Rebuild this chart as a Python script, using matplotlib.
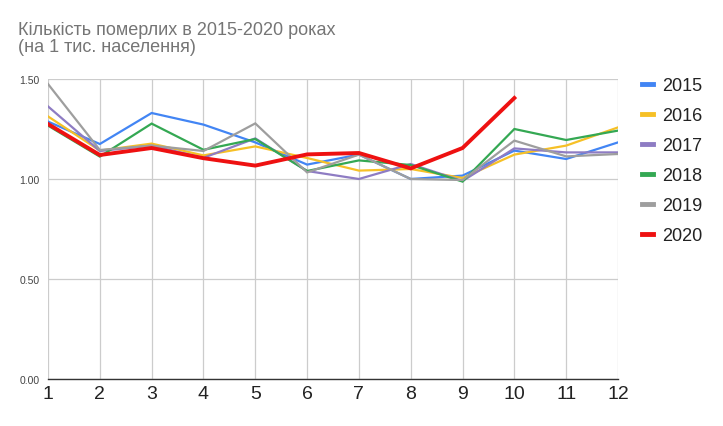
import matplotlib
matplotlib.use("Agg")
from matplotlib import pyplot as plt

plt.rcParams['font.family'] = ['Liberation Sans', 'DejaVu Sans']

months = [1, 2, 3, 4, 5, 6, 7, 8, 9, 10, 11, 12]
y2015 = [1.287, 1.175, 1.330, 1.272, 1.183, 1.072, 1.122, 1.000, 1.017, 1.142, 1.100, 1.183]
y2016 = [1.313, 1.142, 1.177, 1.118, 1.163, 1.105, 1.042, 1.050, 1.005, 1.122, 1.167, 1.258]
y2017 = [1.363, 1.140, 1.167, 1.106, 1.203, 1.040, 1.000, 1.075, 0.990, 1.153, 1.133, 1.133]
y2018 = [1.267, 1.112, 1.277, 1.146, 1.200, 1.040, 1.093, 1.070, 0.987, 1.250, 1.195, 1.242]
y2019 = [1.475, 1.145, 1.167, 1.140, 1.278, 1.033, 1.122, 1.000, 0.995, 1.192, 1.113, 1.125]
y2020 = [1.275, 1.120, 1.155, 1.104, 1.067, 1.123, 1.130, 1.053, 1.155, 1.405]

series = [
    ('2015', y2015, '#4285F4', 1.6),
    ('2016', y2016, '#F6C026', 1.6),
    ('2017', y2017, '#8E7CC3', 1.6),
    ('2018', y2018, '#34A853', 1.6),
    ('2019', y2019, '#9E9E9E', 1.6),
    ('2020', y2020, '#EE1111', 2.8),
]
yticks = [0.0, 0.5, 1.0, 1.5]
ytick_labels = ['0.00', '0.50', '1.00', '1.50']

fig = plt.figure(figsize=(7.23, 4.27), dpi=100)
ax = fig.add_axes([48/723, 1-380/427, (618-48)/723, 300/427])

for name, vals, col, lw in series:
    ax.plot(months[:len(vals)], vals, color=col, lw=lw, label=name,
            solid_joinstyle='miter', zorder=3)

ax.set_xlim(1, 12)
ax.set_ylim(0, 1.5)
ax.set_xticks(months)
ax.set_yticks(yticks)
ax.set_yticklabels(ytick_labels)
ax.grid(True, color='#cccccc', lw=0.9)
ax.set_axisbelow(True)
for s in ['top', 'right', 'left']:
    ax.spines[s].set_visible(False)
ax.spines['bottom'].set_color('#333333')
ax.spines['bottom'].set_linewidth(1.0)
ax.tick_params(axis='x', length=0, labelsize=14, labelcolor='#222222', pad=4)
ax.tick_params(axis='y', length=0, labelsize=7.5, labelcolor='#444444', pad=6)

fig.text(18/723, 1-22/427, 'Кількість померлих в 2015-2020 роках\n(на 1 тис. населення)',
         fontsize=13, color='#757575', va='top', ha='left', linespacing=1.0)

leg = fig.legend(loc='upper left', bbox_to_anchor=(626/723, 1-62/427), frameon=False,
                 fontsize=13, handlelength=0.6, handletextpad=0.5, labelspacing=0.72)
for t in leg.get_texts():
    t.set_color('#222222')
for h in leg.get_lines():
    h.set_linewidth(3.5)

fig.savefig('out.png', dpi=100)
